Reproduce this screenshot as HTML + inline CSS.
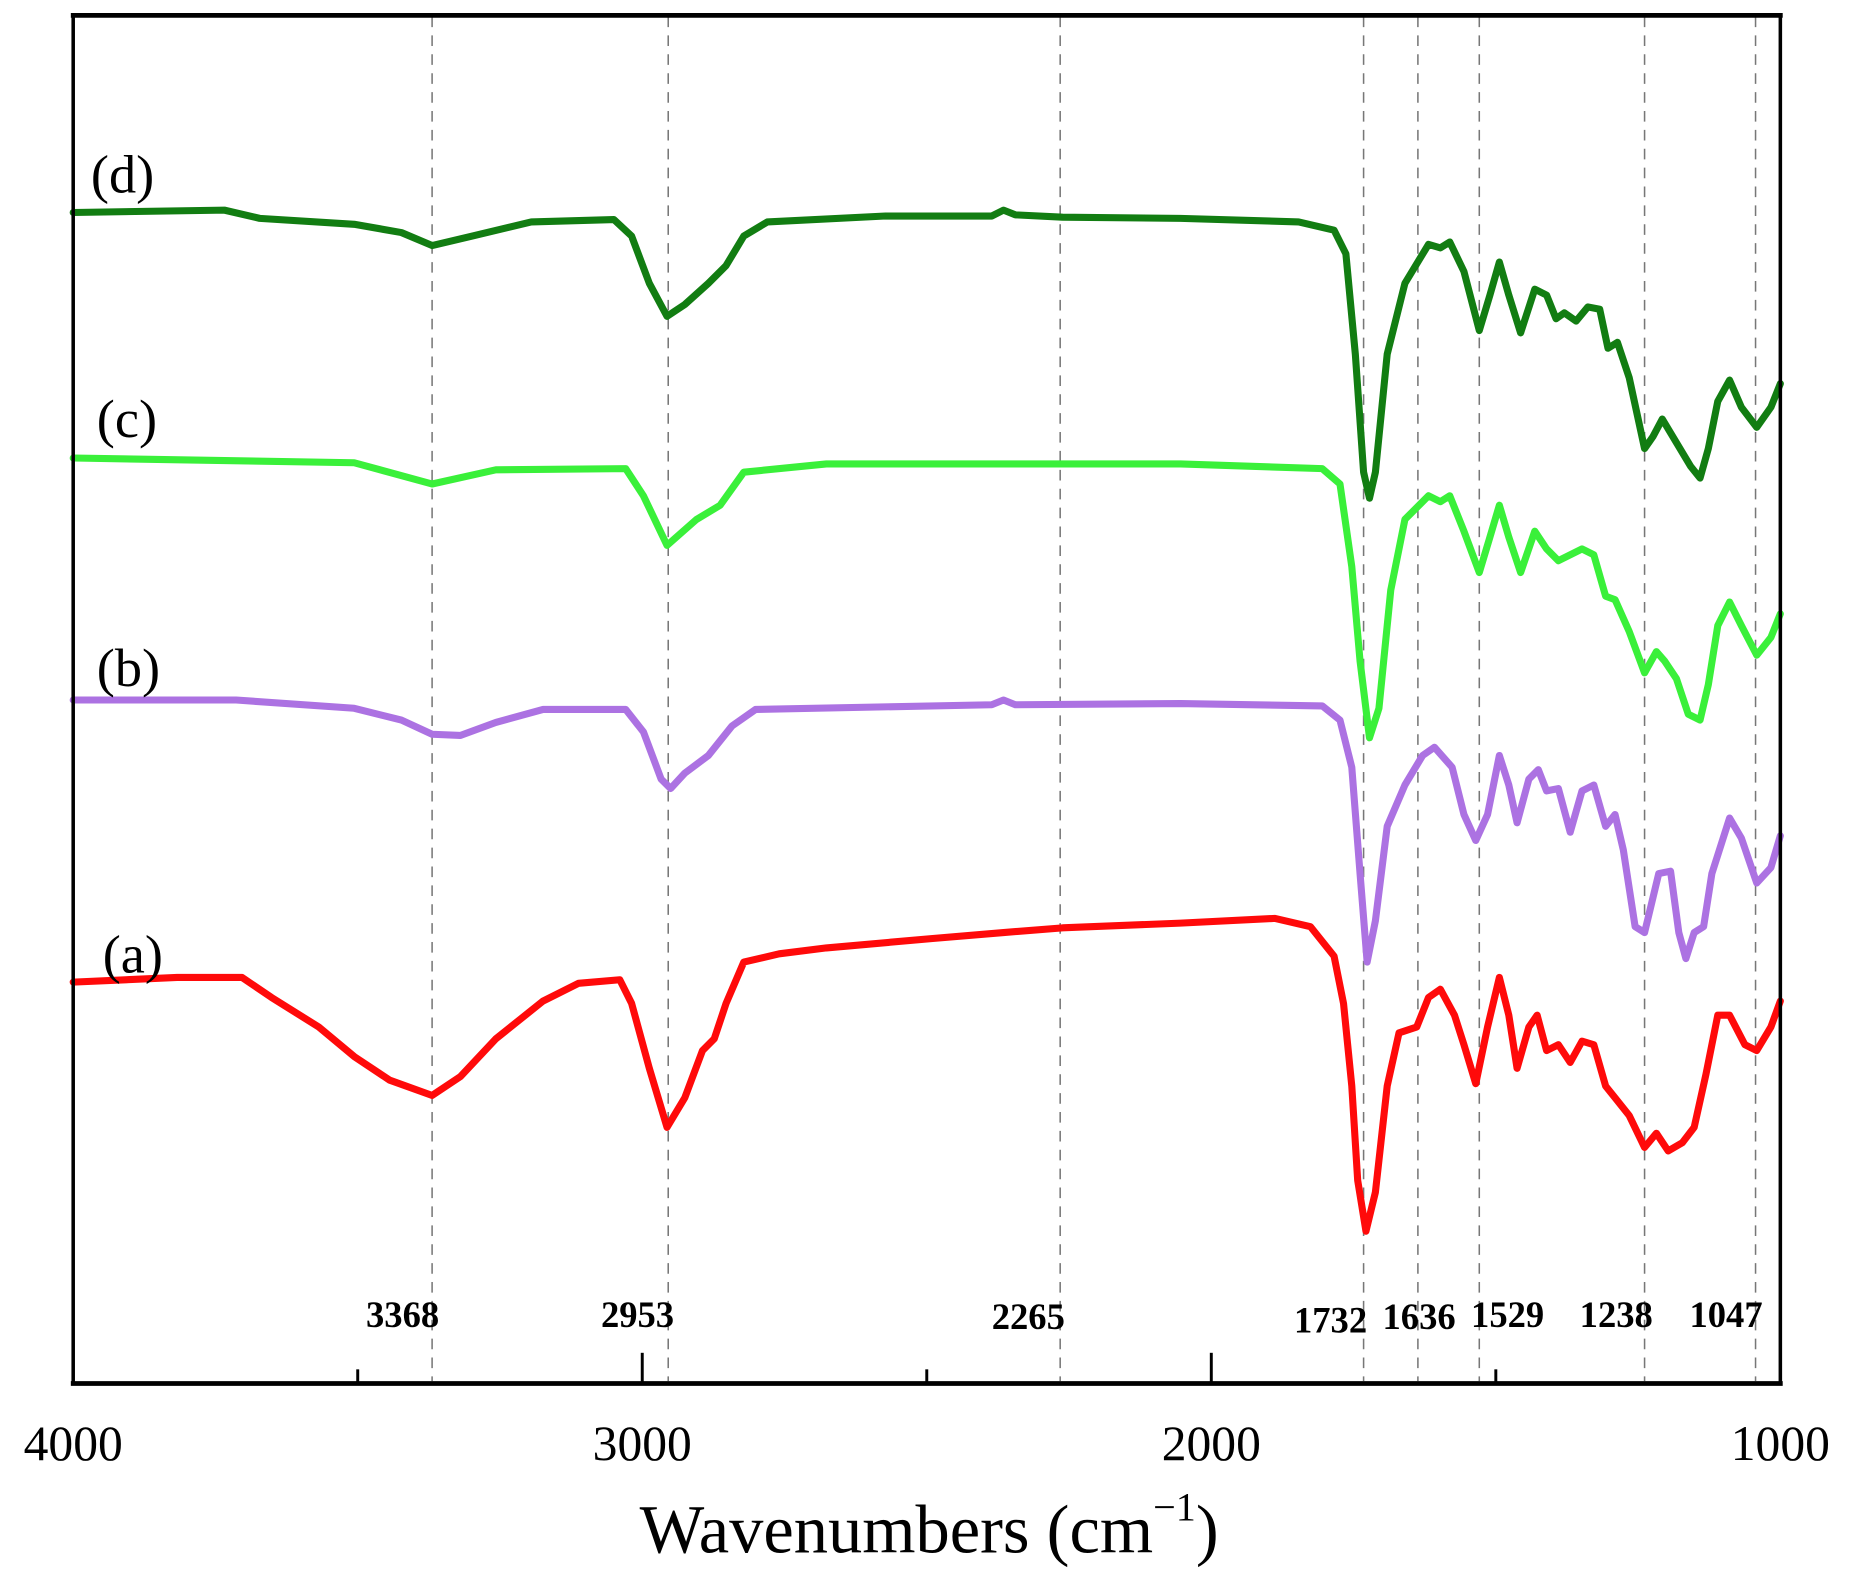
<!DOCTYPE html>
<html><head><meta charset="utf-8"><style>html,body{margin:0;padding:0;background:#fff}svg{display:block}</style></head>
<body>
<svg width="1850" height="1583" viewBox="0 0 1567 1341" preserveAspectRatio="none" xmlns="http://www.w3.org/2000/svg" font-family="'Liberation Serif', serif">
<rect width="1567" height="1341" fill="#fff"/>
<g stroke="#777" stroke-width="1.3" stroke-dasharray="9,7">
<line x1="366" y1="14" x2="366" y2="1170"/><line x1="566" y1="14" x2="566" y2="1170"/><line x1="898" y1="14" x2="898" y2="1170"/><line x1="1155" y1="14" x2="1155" y2="1170"/><line x1="1201" y1="14" x2="1201" y2="1170"/><line x1="1253" y1="14" x2="1253" y2="1170"/><line x1="1393" y1="14" x2="1393" y2="1170"/><line x1="1487" y1="14" x2="1487" y2="1170"/>
</g>
<g fill="none" stroke-width="6" stroke-linejoin="round" stroke-linecap="round">
<polyline stroke="#127d12" points="62,180 190,178 220,185 300,190 340,197 366,208 400,200 450,188 520,186 535,200 550,240 565,268 580,258 600,240 615,225 630,200 650,188 750,183 840,183 850,178 860,182 900,184 1000,185 1100,188 1130,195 1140,215 1148,300 1155,400 1160,422 1165,400 1175,300 1190,240 1210,207 1220,210 1228,205 1240,230 1253,280 1262,250 1270,222 1278,250 1288,282 1300,245 1310,250 1318,270 1325,265 1335,272 1345,260 1355,262 1362,295 1370,290 1380,320 1393,380 1400,370 1408,355 1420,375 1432,395 1440,405 1447,380 1455,340 1465,322 1475,345 1488,362 1500,345 1508,325"/>
<polyline stroke="#3af03a" points="62,388 300,392 366,410 420,398 530,397 545,420 565,462 590,440 610,428 630,400 700,393 1000,393 1120,397 1135,410 1145,480 1152,560 1160,625 1168,600 1178,500 1190,440 1210,420 1220,425 1228,420 1240,450 1253,485 1262,455 1270,428 1278,455 1288,485 1300,450 1310,465 1320,475 1330,470 1340,465 1350,470 1360,505 1368,508 1380,535 1393,570 1403,552 1410,560 1420,575 1430,605 1440,610 1447,580 1455,530 1465,510 1475,530 1488,555 1500,540 1508,520"/>
<polyline stroke="#ac72e2" points="62,593 200,593 300,600 340,610 366,622 390,623 420,612 460,601 530,601 545,620 560,660 568,668 580,655 600,640 620,615 640,601 840,597 850,593 860,597 1000,596 1120,598 1135,610 1145,650 1152,740 1158,815 1165,780 1175,700 1190,665 1205,640 1215,633 1230,650 1240,690 1250,712 1260,690 1270,640 1278,665 1285,697 1295,660 1303,652 1310,670 1320,668 1330,705 1340,670 1350,665 1360,700 1368,690 1375,720 1385,785 1393,790 1405,740 1415,738 1422,790 1428,812 1435,790 1443,785 1450,740 1465,693 1475,710 1488,748 1500,735 1508,708"/>
<polyline stroke="#ff0a0a" points="62,832 150,828 205,828 230,845 270,870 300,895 330,915 366,928 390,912 420,880 460,848 490,833 525,830 535,850 550,905 565,955 580,930 595,890 605,880 615,850 630,815 660,808 700,803 790,795 850,790 900,786 1000,782 1080,778 1110,785 1130,810 1138,850 1145,920 1150,1000 1157,1043 1165,1010 1175,920 1185,875 1200,870 1210,845 1220,838 1232,860 1240,885 1250,918 1260,870 1270,828 1278,860 1285,905 1295,870 1302,860 1310,890 1320,885 1330,900 1340,882 1350,885 1360,920 1368,930 1380,945 1393,972 1403,960 1413,975 1425,968 1435,955 1445,910 1455,860 1465,860 1478,885 1488,890 1500,870 1508,848"/>
</g>
<rect x="62" y="13" width="1446" height="1159" fill="none" stroke="#000" stroke-width="3"/>
<line x1="60" y1="13" x2="1510" y2="13" stroke="#000" stroke-width="4"/>
<line x1="60" y1="1172" x2="1510" y2="1172" stroke="#000" stroke-width="4"/>
<g stroke="#000" stroke-width="2.5">
<line x1="544" y1="1172" x2="544" y2="1146"/><line x1="1026" y1="1172" x2="1026" y2="1146"/>
<line x1="303" y1="1172" x2="303" y2="1160"/><line x1="785" y1="1172" x2="785" y2="1160"/><line x1="1267" y1="1172" x2="1267" y2="1160"/>
</g>
<g font-size="42" text-anchor="middle" fill="#000">
<text x="62" y="1237">4000</text><text x="544" y="1237">3000</text><text x="1026" y="1237">2000</text><text x="1508" y="1237">1000</text>
</g>
<text x="787" y="1315" font-size="58" text-anchor="middle">Wavenumbers (cm<tspan font-size="34" dy="-27">−1</tspan><tspan dy="27">)</tspan></text>
<g font-size="31" font-weight="bold" text-anchor="middle">
<text x="341" y="1124">3368</text><text x="540" y="1124">2953</text><text x="871" y="1126">2265</text><text x="1127" y="1129">1732</text><text x="1202" y="1126">1636</text><text x="1277" y="1124">1529</text><text x="1369" y="1124">1238</text><text x="1462" y="1124">1047</text>
</g>
<g font-size="46">
<text x="77" y="163">(d)</text><text x="82" y="370">(c)</text><text x="82" y="581">(b)</text><text x="87" y="824">(a)</text>
</g>
</svg>
</body></html>
